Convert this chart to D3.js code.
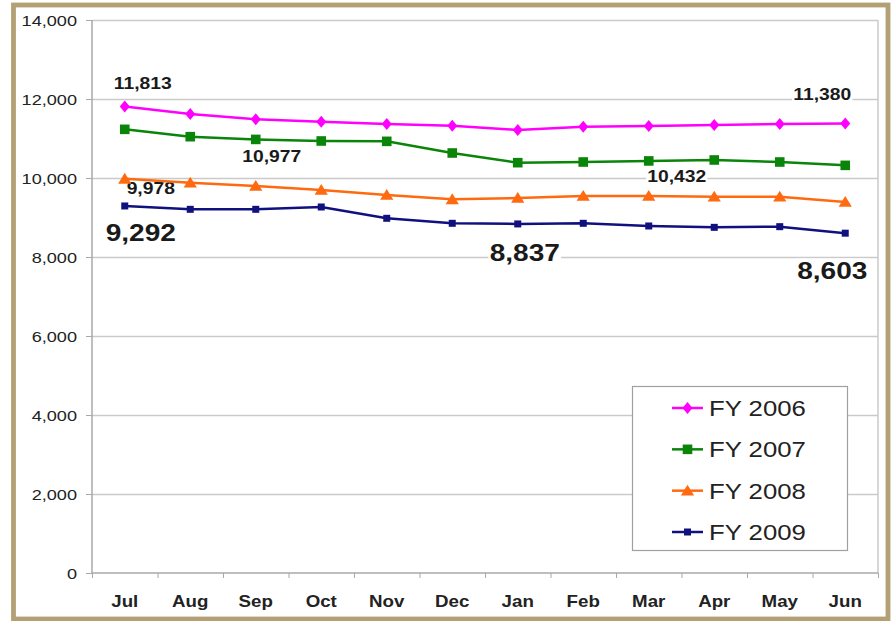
<!DOCTYPE html>
<html>
<head>
<meta charset="utf-8">
<script src="https://cdn.jsdelivr.net/npm/d3@7"></script>
<style>
  body { margin: 0; background: #fff; }
  svg { display: block; font-family: "Liberation Sans", Arial, sans-serif; }
  .axis path, .axis line { stroke: #a8a8a8; }
  .grid line { stroke: #cacaca; stroke-width: 1.5; }
  .grid path { display: none; }
</style>
</head>
<body>
<div class="chart"></div>
<script>
const months = ["Jul", "Aug", "Sep", "Oct", "Nov", "Dec", "Jan", "Feb", "Mar", "Apr", "May", "Jun"];
const seriesNames = ["FY 2006", "FY 2007", "FY 2008", "FY 2009"];
const fy2006 = [11813, 11620, 11486, 11426, 11367, 11325, 11215, 11300, 11316, 11342, 11367, 11380];
const fy2007 = [11232, 11046, 10977, 10937, 10928, 10633, 10388, 10405, 10432, 10456, 10405, 10320];
const fy2008 = [9978, 9881, 9797, 9696, 9570, 9460, 9494, 9544, 9544, 9527, 9527, 9392];
const fy2009 = [9292, 9207, 9207, 9266, 8980, 8853, 8837, 8853, 8785, 8751, 8768, 8603];
const yTicks = [0, 2000, 4000, 6000, 8000, 10000, 12000, 14000];

// labelled points: series index, month index
const callouts = [
  { s: 0, i: 0, big: false, dx: 18, dy: -23 },
  { s: 0, i: 11, big: false, dx: -23, dy: -29 },
  { s: 1, i: 2, big: false, dx: 16, dy: 17 },
  { s: 1, i: 8, big: false, dx: 28, dy: 15 },
  { s: 2, i: 0, big: false, dx: 26, dy: 9 },
  { s: 3, i: 0, big: true, dx: 16, dy: 27 },
  { s: 3, i: 6, big: true, dx: 7, dy: 29 },
  { s: 3, i: 11, big: true, dx: -13, dy: 37 }
];

const W = 892, H = 621;
const SX = 1.17; // the source is a little wider than the font
const plotL = 92, plotR = 878, plotT = 20, plotB = 573;

const diamond = { draw(ctx, s) { ctx.moveTo(0, -s * 1.2); ctx.lineTo(s, 0); ctx.lineTo(0, s * 1.2); ctx.lineTo(-s, 0); ctx.closePath(); } };
const square = { draw(ctx, s) { ctx.rect(-s, -s, 2 * s, 2 * s); } };
const triangle = { draw(ctx, s) { ctx.moveTo(0, -s); ctx.lineTo(s * 1.1, s * 0.8); ctx.lineTo(-s * 1.1, s * 0.8); ctx.closePath(); } };

const series = [
  { name: seriesNames[0], values: fy2006, color: "#ff00ff", shape: diamond, size: 5 },
  { name: seriesNames[1], values: fy2007, color: "#0a850a", shape: square, size: 4.8 },
  { name: seriesNames[2], values: fy2008, color: "#ff6a10", shape: triangle, size: 6 },
  { name: seriesNames[3], values: fy2009, color: "#10107e", shape: square, size: 3.5 }
];

const svg = d3.select(".chart").append("svg").attr("width", W).attr("height", H);

svg.append("rect")
  .attr("x", 13.5).attr("y", 5).attr("width", 874.5).attr("height", 614)
  .attr("fill", "#fff").attr("stroke", "#b3a075").attr("stroke-width", 4.8);

const x = d3.scaleBand().domain(months).range([plotL, plotR]);
const xc = m => x(m) + x.bandwidth() / 2;
const xEdge = d3.scaleLinear().domain([0, months.length]).range([plotL, plotR]);
const y = d3.scaleLinear().domain([0, 14000]).range([plotB, plotT]);

function stretched(sel, tx, ty) {
  return sel.attr("transform", `translate(${tx},${ty}) scale(${SX},1)`);
}

// grid
svg.append("g").attr("class", "grid")
  .attr("transform", `translate(${plotL},0)`)
  .call(d3.axisLeft(y).tickValues(yTicks.slice(1)).tickSize(-(plotR - plotL)).tickFormat(""));

svg.append("line").attr("x1", plotR).attr("x2", plotR).attr("y1", plotT).attr("y2", plotB)
  .attr("stroke", "#cacaca").attr("stroke-width", 1.5);

// y axis
const yAxis = svg.append("g").attr("class", "axis")
  .attr("transform", `translate(${plotL},0)`)
  .call(d3.axisLeft(y).tickValues(yTicks).tickSize(6).tickFormat(d3.format(",")));
yAxis.select(".domain").attr("d", `M0,${plotT}V${plotB}`).attr("stroke-width", 1.5);
yAxis.selectAll("text")
  .attr("x", null).attr("dy", "0.35em")
  .attr("font-size", 15.5).attr("fill", "#222")
  .attr("transform", `translate(-15,0) scale(${SX},1)`);

// x axis
const xAxis = svg.append("g").attr("class", "axis")
  .attr("transform", `translate(0,${plotB})`)
  .call(d3.axisBottom(xEdge).ticks(months.length).tickSize(5).tickFormat(""));
xAxis.select(".domain").attr("d", `M${plotL},0H${plotR}`).attr("stroke-width", 1.5);

svg.append("g").selectAll("text").data(months).join("text")
  .attr("transform", d => `translate(${xc(d)},${plotB + 33.5}) scale(${SX},1)`)
  .attr("text-anchor", "middle")
  .attr("font-size", 16).attr("font-weight", "bold").attr("fill", "#222")
  .text(d => d);

// callout labels (white boxes sit under the lines but over the grid)
const labelLayer = svg.append("g");
callouts.forEach(c => {
  const v = series[c.s].values[c.i];
  const g = stretched(labelLayer.append("g"), xc(months[c.i]) + c.dx, y(v) + c.dy);
  const t = g.append("text")
    .attr("text-anchor", "middle").attr("dy", "0.35em")
    .attr("font-size", c.big ? 24 : 16.5).attr("font-weight", "bold").attr("fill", "#1a1a1a")
    .text(d3.format(",")(v));
  const b = t.node().getBBox();
  g.insert("rect", "text")
    .attr("x", b.x - 1).attr("y", b.y + 2).attr("width", b.width + 2).attr("height", b.height - 4)
    .attr("fill", "#fff");
});

// series
const line = d3.line().x((d, i) => xc(months[i])).y(d => y(d));
series.forEach(s => {
  svg.append("path").datum(s.values)
    .attr("fill", "none").attr("stroke", s.color).attr("stroke-width", 2.5)
    .attr("d", line);
  svg.append("g").selectAll("path").data(s.values).join("path")
    .attr("transform", (d, i) => `translate(${xc(months[i])},${y(d)})`)
    .attr("d", d3.symbol(s.shape, s.size))
    .attr("fill", s.color);
});

// legend
const lg = svg.append("g");
lg.append("rect")
  .attr("x", 632.5).attr("y", 386.5).attr("width", 215).attr("height", 164)
  .attr("fill", "#fff").attr("stroke", "#a0a0a0").attr("stroke-width", 1.2);
const rows = d3.scalePoint().domain(seriesNames).range([408, 532]);
series.forEach(s => {
  const ry = rows(s.name);
  lg.append("line").attr("x1", 672).attr("x2", 703).attr("y1", ry).attr("y2", ry)
    .attr("stroke", s.color).attr("stroke-width", 2.5);
  lg.append("path").attr("transform", `translate(687.5,${ry})`)
    .attr("d", d3.symbol(s.shape, s.size)).attr("fill", s.color);
  stretched(lg.append("text"), 709, ry)
    .attr("dy", "0.36em").attr("font-size", 22).attr("fill", "#222")
    .text(s.name);
});
</script>
</body>
</html>
